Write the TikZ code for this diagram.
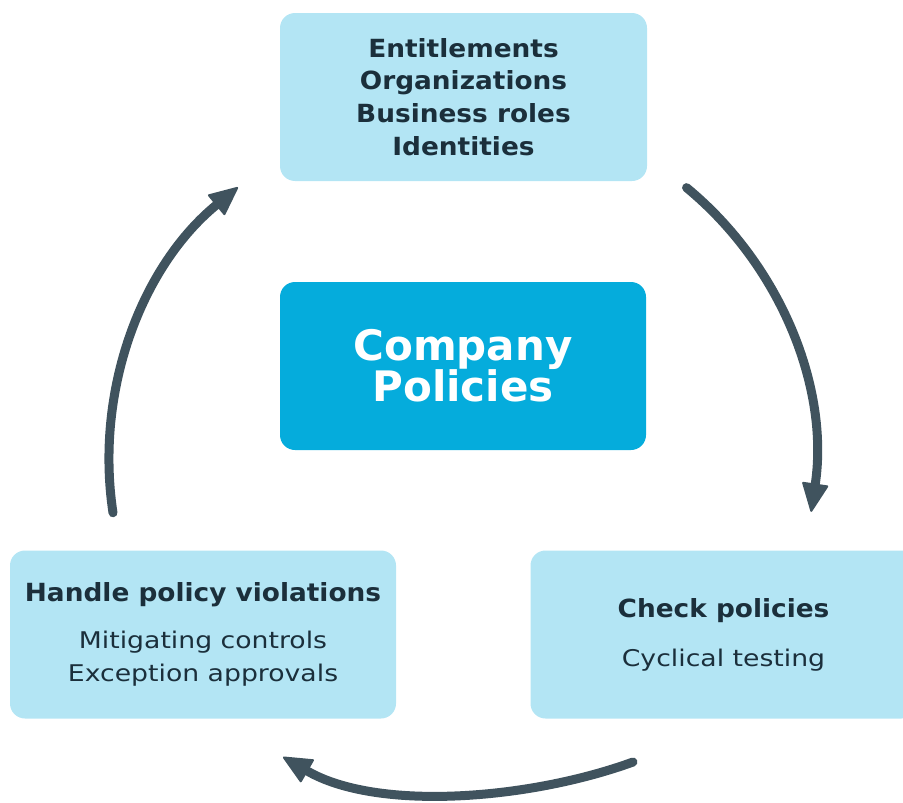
\documentclass[tikz,border=0pt]{standalone}
\usepackage{fontspec}
\setmainfont{DejaVu Sans}[FakeStretch=1.16, BoldFeatures={FakeStretch=1.055}]
\newfontfamily\hubfont{DejaVu Sans}
\usetikzlibrary{arrows.meta}

\definecolor{panelblue}{HTML}{B3E5F4}
\definecolor{hubblue}{HTML}{05ACDC}
\definecolor{inkdark}{HTML}{1B2F3B}
\definecolor{flowgray}{HTML}{40535E}

\tikzset{
	panel/.style={fill=panelblue, rounded corners=15pt, minimum width=386pt, minimum height=168pt, inner sep=0pt, text=inkdark, align=center},
	hub/.style={fill=hubblue, rounded corners=15pt, minimum width=366pt, minimum height=168pt, inner sep=0pt, text=white, align=center},
	flow/.style={draw=flowgray, line width=9pt, line cap=round, -{Triangle[length=30pt,width=27pt,line width=2pt,round]}}
}

\begin{document}
\begin{tikzpicture}[x=1pt,y=1pt]
	\path[use as bounding box, clip] (0,0) rectangle (903,-803);

	\node[panel, minimum width=367pt, font=\fontsize{25}{32.7}\selectfont\bfseries] (objects) at (463.5,-97) {Entitlements\\Organizations\\Business roles\\Identities};
	\node[hub, font=\hubfont\fontsize{42}{41}\selectfont\bfseries] (policies) at (463,-366) {Company\\Policies};
	\node[panel, font=\fontsize{23}{33}\selectfont] (handle) at (203,-634.5) {{\fontsize{25}{33}\selectfont\bfseries Handle policy violations}\\[14pt]Mitigating controls\\Exception approvals};
	\node[panel, font=\fontsize{23}{33}\selectfont] (check) at (723.5,-634.5) {{\fontsize{25}{33}\selectfont\bfseries Check policies}\\[16pt]Cyclical testing};

	\coordinate (hubc) at (462,-460);
	\coordinate (r0) at ([shift={(50.5:353)}]hubc);
	\coordinate (l0) at ([shift={(188.6:353)}]hubc);
	\coordinate (b0) at (633,-762);
	\coordinate (b1) at (283,-757);

	\draw[flow] (r0) arc[start angle=50.5, end angle=-8.45, radius=353];
	\draw[flow] (b0) to[out=200, in=-30, looseness=0.8] (b1);
	\draw[flow] (l0) arc[start angle=188.6, end angle=129.4, radius=353];
\end{tikzpicture}
\end{document}
